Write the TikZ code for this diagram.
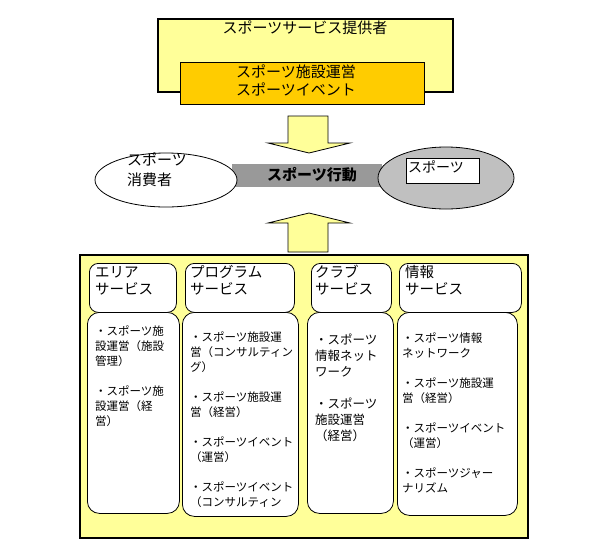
\documentclass[tikz,border=0pt]{standalone}
\usepackage{fontspec}
\setmainfont{Noto Sans CJK JP}
\definecolor{lyellow}{HTML}{FFFF99}
\definecolor{orangey}{HTML}{FFCC00}
\definecolor{bargray}{HTML}{999999}
\definecolor{ellgray}{HTML}{C0C0C0}
\tikzset{
  txt/.style={inner sep=0pt, anchor=west, align=left},
  rect/.style={draw, anchor=north west, inner sep=0pt, line width=0.8pt},
  headbox/.style={rect, fill=white, rounded corners=9pt, minimum height=49pt},
  bodybox/.style={rect, fill=white, rounded corners=12pt},
  blockarrow/.style={draw, fill=lyellow, line width=0.8pt, line join=miter},
  headtxt/.style={txt, font=\fontsize{14.5}{17}\selectfont},
  bodytxt/.style={txt, font=\fontsize{11.5}{15}\selectfont},
}
\begin{document}
\begin{tikzpicture}[x=1pt,y=-1pt]
\useasboundingbox (0,0) rectangle (600,555);

% provider box
\node[rect, fill=lyellow, line width=2pt, minimum width=295pt, minimum height=73pt] (provider) at (157,18) {};
\node[rect, fill=orangey, minimum width=244pt, minimum height=42pt] (supply) at (180,62) {};
\node[inner sep=0pt, font=\fontsize{15}{18}\selectfont] (providertxt) at (305,28) {スポーツサービス提供者};
\node[txt, font=\fontsize{15}{18}\selectfont] (supplytxt) at (236,80) {スポーツ施設運営\\スポーツイベント};

% down arrow
\draw[blockarrow] (288,116) -- (328,116) -- (328,143) -- (350,143) -- (309,153) -- (268,143) -- (288,143) -- cycle;
% up arrow
\draw[blockarrow] (288,252) -- (328,252) -- (328,223) -- (350,223) -- (309,213) -- (268,223) -- (288,223) -- cycle;

% bar
\node[anchor=north west, fill=bargray, inner sep=0pt, minimum width=150pt, minimum height=23pt] (bar) at (232,164) {};
\node[inner sep=0pt, font=\fontsize{15}{18}\selectfont\bfseries] (bartxt) at (312,175) {スポーツ行動};

% ellipses
\draw[fill=white, line width=0.8pt] (166,180) ellipse [x radius=71pt, y radius=27pt];
\node[txt, font=\fontsize{15}{20}\selectfont] (consumer) at (127,170) {スポーツ\\消費者};
\draw[fill=ellgray, line width=0.8pt] (446,178) ellipse [x radius=68pt, y radius=31pt];
\node[rect, fill=white, minimum width=73pt, minimum height=25pt] (sportbox) at (406,158) {};
\node[txt, font=\fontsize{14}{17}\selectfont] (sporttxt) at (408,167) {スポーツ};

% services box
\node[rect, fill=lyellow, line width=2pt, minimum width=448pt, minimum height=283pt] (services) at (79,254) {};

% bodies
\node[bodybox, minimum width=92pt, minimum height=201pt] (bodyA) at (87,312) {};
\node[bodybox, minimum width=116pt, minimum height=204pt] (bodyB) at (182,312) {};
\node[bodybox, minimum width=86pt, minimum height=201pt] (bodyC) at (307,312) {};
\node[bodybox, minimum width=120pt, minimum height=203pt] (bodyD) at (397,312) {};

% headers
\node[headbox, minimum width=87pt] (headA) at (89,263) {};
\node[headbox, minimum width=109pt] (headB) at (185,263) {};
\node[headbox, minimum width=80pt] (headC) at (311,263) {};
\node[headbox, minimum width=122pt] (headD) at (399,263) {};

\node[headtxt] (headAtxt) at (95,280.5) {エリア\\サービス};
\node[headtxt] (headBtxt) at (190,280.5) {プログラム\\サービス};
\node[headtxt] (headCtxt) at (315,280.5) {クラブ\\サービス};
\node[headtxt] (headDtxt) at (405,280.5) {情報\\サービス};

\node[bodytxt] (bodyAtxt) at (95,376) {・スポーツ施\\設運営（施設\\管理）\\[15pt]・スポーツ施\\設運営（経\\営）};
\node[bodytxt] (bodyBtxt) at (190,419.5) {・スポーツ施設運\\営（コンサルティン\\グ）\\[15pt]・スポーツ施設運\\営（経営）\\[15pt]・スポーツイベント\\（運営）\\[15pt]・スポーツイベント\\（コンサルティン};
\node[txt, font=\fontsize{12.5}{16}\selectfont] (bodyCtxt) at (315,388) {・スポーツ\\情報ネット\\ワーク\\[16pt]・スポーツ\\施設運営\\（経営）};
\node[bodytxt] (bodyDtxt) at (402,413) {・スポーツ情報\\ネットワーク\\[15pt]・スポーツ施設運\\営（経営）\\[15pt]・スポーツイベント\\（運営）\\[15pt]・スポーツジャー\\ナリズム};
\end{tikzpicture}
\end{document}
